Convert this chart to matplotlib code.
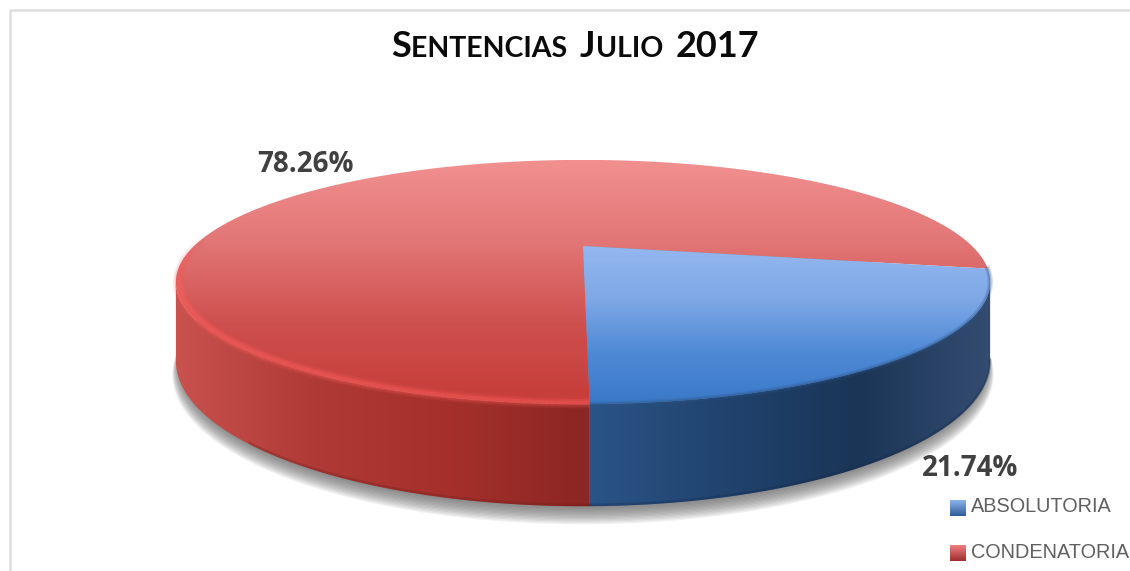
import numpy as np
import matplotlib
matplotlib.use("Agg")
import matplotlib.pyplot as plt
from matplotlib.patches import Polygon
from matplotlib.colors import to_rgb

title_parts = [("S", 26), ("ENTENCIAS ", 20.5), ("J", 26), ("ULIO ", 20.5), ("2017", 26)]
categories = ["ABSOLUTORIA", "CONDENATORIA"]
values = [21.74, 78.26]

# colour stops (position 0-1, colour)
top_blue = ["#94B8F0", "#7FA8E6", "#4F8AD6", "#3A78C6"]
top_red = ["#F29090", "#E27676", "#CE504E", "#C63C38"]
side_red = ["#C9524E", "#B03A35", "#A5302B", "#8A2623"]
side_blue = ["#2A5486", "#21436E", "#1A3556", "#344C70"]

# pie geometry in pixels
cx, cy = 583, 246
b, a, k = 389, 111.5, 0.295
depth = 72
start = -89.3


def rim(theta, drop=0, r=1.0):
    t = np.radians(theta)
    X, Y = r * np.cos(t), r * np.sin(t)
    w = 1 + k * Y
    return cx + b * X / w, cy - a * Y / w + drop / w


def gradient(stops, box, horizontal=False):
    cols = np.array([to_rgb(c) for c in stops])
    pos = np.linspace(0, 1, len(stops))
    u = np.linspace(0, 1, 256)
    arr = np.stack([np.interp(u, pos, cols[:, i]) for i in range(3)], axis=-1)
    arr = arr[None, :, :] if horizontal else arr[:, None, :]
    return arr, box


def fill(ax, xs, ys, stops, horizontal=False, box=None, z=2):
    pts = np.column_stack([xs, ys])
    if box is None:
        box = (pts[:, 0].min(), pts[:, 0].max(), pts[:, 1].max(), pts[:, 1].min())
    arr, box = gradient(stops, box, horizontal)
    im = ax.imshow(arr, extent=box, aspect="auto", zorder=z, interpolation="bilinear")
    im.set_clip_path(Polygon(pts, closed=True, transform=ax.transData))
    return im


fig = plt.figure(figsize=(11.30, 5.71), dpi=100)
ax = fig.add_axes([0, 0, 1, 1])
ax.set_xlim(0, 1130)
ax.set_ylim(571, 0)
ax.axis("off")

# chart frame
ax.plot([9.5, 9.5, 1130], [571, 10, 10], color="#DFDFDF", lw=1.8, zorder=1)

sweep = [v / sum(values) * 360 for v in values]
blue_end = start + sweep[0]
red_end = blue_end + sweep[1]
left_ext = 180 + np.degrees(np.arcsin(k))
right_ext = 360 - np.degrees(np.arcsin(k))

# shadow under the pie
th = np.linspace(0, 360, 361)
for i in range(14):
    sx, sy = rim(th, depth + 1 + i * 0.9)
    sx = cx + (sx - cx) * (1.0 + (i - 6) * 0.0012)
    ax.fill(sx, sy, color="#666666", alpha=0.085, lw=0, zorder=1.5)

# side walls
th_r = np.linspace(left_ext, 360 + start, 120)
x1, y1 = rim(th_r)
x2, y2 = rim(th_r, depth)
fill(ax, np.r_[x1, x2[::-1]], np.r_[y1, y2[::-1]], side_red, horizontal=True,
     box=(175, 590, 520, 250))
th_b = np.linspace(360 + start, right_ext, 80)
x1, y1 = rim(th_b)
x2, y2 = rim(th_b, depth)
fill(ax, np.r_[x1, x2[::-1]], np.r_[y1, y2[::-1]], side_blue, horizontal=True,
     box=(590, 992, 520, 250))

# darker lip at the foot of the wall
for th_f, col in ((th_r[50:], "#6E1C1A"), (th_b, "#14294A")):
    fx, fy = rim(th_f, depth - 1)
    ax.plot(fx, fy, color=col, lw=1.8, alpha=0.3, zorder=2.5)

# top surface
full_top = (175, 992, 405, 160)
th_top_r = np.linspace(blue_end, red_end, 300)
xr, yr = rim(th_top_r)
fill(ax, np.r_[cx, xr], np.r_[cy, yr], top_red, box=full_top, z=3)
th_top_b = np.linspace(start, blue_end, 80)
xb, yb = rim(th_top_b)
fill(ax, np.r_[cx, xb], np.r_[cy, yb], top_blue, box=(175, 992, 405, 245), z=3)

# soft edge on the blue rim
ex, ey = rim(th_top_b)
for lw, al in ((4, 0.18), (2, 0.3)):
    ax.plot(ex, ey, color="#2C5488", lw=lw, alpha=al, zorder=4)

# bevel highlight along the front of the red rim
th_h = np.linspace(176, 360 + start, 160)
hx, hy = rim(th_h, r=0.994)
for j in range(len(th_h) - 1):
    fade = min(1, (th_h[j] - 176) / 24)
    end_fade = 1 - 0.3 * (th_h[j] - 200) / (360 + start - 200) if th_h[j] > 200 else 1
    for lw, al in ((8, 0.16), (5.5, 0.3), (3, 0.45)):
        ax.plot(hx[j:j + 2], hy[j:j + 2], color="#FA5E5C", lw=lw,
                alpha=al * fade * end_fade, solid_capstyle="butt", zorder=4)

# title, small caps built from pieces
x = 391
for piece, size in title_parts:
    t = ax.text(x, 57, piece, fontsize=size, fontweight="bold", family="Lato",
                color="#0A0A0A", va="baseline", ha="left", zorder=6)
    bb = t.get_window_extent(fig.canvas.get_renderer())
    spacer = bb.width
    if piece.endswith(" "):
        spacer += size * 0.3
    x += spacer

# data labels
ax.text(305, 164, f"{values[1]:.2f}%", fontsize=20, fontweight="bold", family="Open Sans",
        color="#404040", ha="center", va="center", zorder=6)
ax.text(970, 468, f"{values[0]:.2f}%", fontsize=20, fontweight="bold", family="Open Sans",
        color="#404040", ha="center", va="center", zorder=6)

# legend
legend_y = [508, 553]
legend_cols = [("#8FB4EC", "#2E5C9A"), ("#F08080", "#A02C2C")]
for name, ly, (c1, c2) in zip(categories, legend_y, legend_cols):
    arr, box = gradient([c1, c2], (950, 966, ly + 8, ly - 8))
    ax.imshow(arr, extent=box, aspect="auto", zorder=6)
    ax.text(971, ly - 1, name, fontsize=14.3, family="Liberation Sans", color="#606060",
            ha="left", va="center", zorder=6)

ax.set_xlim(0, 1130)
ax.set_ylim(571, 0)
fig.savefig("out.png", dpi=100)
